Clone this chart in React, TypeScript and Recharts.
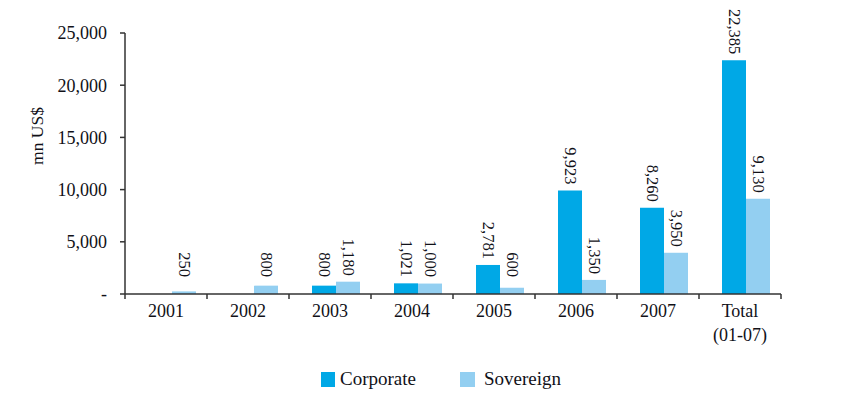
import React from 'react';
import { BarChart, Bar, XAxis, YAxis, Legend, LabelList, Rectangle } from 'recharts';

const categories = ['2001', '2002', '2003', '2004', '2005', '2006', '2007', 'Total|(01-07)'];
const corporate = [0, 0, 800, 1021, 2781, 9923, 8260, 22385];
const sovereign = [250, 800, 1180, 1000, 600, 1350, 3950, 9130];
const yTicks = [0, 5000, 10000, 15000, 20000, 25000];

const data = categories.map((c, i) => ({
  name: c,
  corporate: corporate[i] === 0 ? null : corporate[i],
  sovereign: sovereign[i],
}));

const CORP = '#00A8E6';
const SOV = '#93CFF1';
const FONT = '"Liberation Serif", "Times New Roman", serif';
const TEXT = '#111118';
const SHIFT = 6;
const W = 851;
const H = 395;
const M = { top: 33, right: 70, left: 0, bottom: 71 };
const Y_W = 125;
const HALF_BAND = (W - Y_W - M.right) / categories.length / 2;

const shiftedShape = (props: any) => <Rectangle {...props} x={props.x + SHIFT} />;

const BarLabel = (props: any) => {
  const { x, y, width, value } = props;
  if (value == null || value === 0) return null;
  const cx = x + width / 2 + SHIFT;
  const endY = Math.min(y - 6, 277);
  return (
    <text
      x={cx}
      y={endY}
      transform={`rotate(90 ${cx} ${endY})`}
      textAnchor="end"
      dominantBaseline="central"
      fontFamily={FONT}
      fontSize={16.5}
      fill={TEXT}
    >
      {Number(value).toLocaleString('en-US')}
    </text>
  );
};

const XTick = (props: any) => {
  const { x, y, payload, index } = props;
  const lines = String(payload.value).split('|');
  const last = index === categories.length - 1;
  return (
    <g>
      <line x1={x - HALF_BAND} x2={x - HALF_BAND} y1={y} y2={y + 5} stroke="#333" strokeWidth={1.5} />
      {last && <line x1={x + HALF_BAND} x2={x + HALF_BAND} y1={y} y2={y + 5} stroke="#333" strokeWidth={1.5} />}
      {lines.map((l, i) => (
        <text key={i} x={x} y={y + 23 + i * 24} textAnchor="middle" fontFamily={FONT} fontSize={18} fill={TEXT}>
          {l}
        </text>
      ))}
    </g>
  );
};

const YLabel = () => (
  <text
    x={37}
    y={136}
    transform="rotate(-90 37 136)"
    textAnchor="middle"
    dominantBaseline="central"
    fontFamily={FONT}
    fontSize={17.5}
    fill={TEXT}
  >
    mn US$
  </text>
);

const LegendContent = () => (
  <div style={{ position: 'relative', width: W, height: 30, fontFamily: FONT, fontSize: 19, color: TEXT }}>
    <span style={{ position: 'absolute', left: 321, top: 7, width: 14, height: 15, background: CORP }} />
    <span style={{ position: 'absolute', left: 340, top: 3, lineHeight: '22px' }}>Corporate</span>
    <span style={{ position: 'absolute', left: 460, top: 7, width: 15, height: 15, background: SOV }} />
    <span style={{ position: 'absolute', left: 484, top: 3, lineHeight: '22px' }}>Sovereign</span>
  </div>
);

export default function App() {
  return (
    <div style={{ position: 'absolute', left: 0, top: 0, width: W, height: H, background: '#fff' }}>
      <BarChart width={W} height={H} data={data} margin={M} barGap={0} barSize={24}>
        <XAxis
          dataKey="name"
          tick={<XTick />}
          tickLine={false}
          tickSize={0}
          tickMargin={0}
          axisLine={{ stroke: '#333', strokeWidth: 1.5 }}
          height={30}
          interval={0}
        />
        <YAxis
          width={Y_W}
          domain={[0, 25000]}
          ticks={yTicks}
          interval={0}
          tickSize={5}
          tickMargin={13}
          tickLine={{ stroke: '#333', strokeWidth: 1.5 }}
          axisLine={{ stroke: '#333', strokeWidth: 1.5 }}
          tick={{ fontFamily: FONT, fontSize: 18, fill: TEXT }}
          tickFormatter={(v: number) => (v === 0 ? '-' : v.toLocaleString('en-US'))}
          label={<YLabel />}
        />
        <Legend
          verticalAlign="middle"
          layout="horizontal"
          content={<LegendContent />}
          wrapperStyle={{ top: 365, left: 0, width: W }}
        />
        <Bar dataKey="corporate" fill={CORP} isAnimationActive={false} shape={shiftedShape}>
          <LabelList dataKey="corporate" content={<BarLabel />} />
        </Bar>
        <Bar dataKey="sovereign" fill={SOV} isAnimationActive={false} shape={shiftedShape}>
          <LabelList dataKey="sovereign" content={<BarLabel />} />
        </Bar>
      </BarChart>
    </div>
  );
}
